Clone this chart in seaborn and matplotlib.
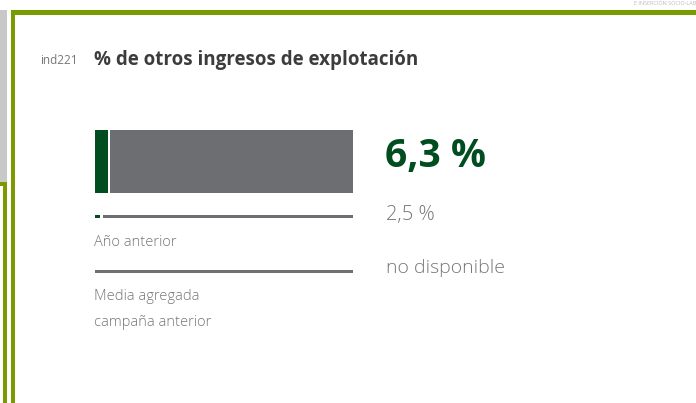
import seaborn as sns
import matplotlib.pyplot as plt
from matplotlib.patches import Rectangle

# datos del indicador
codigo = "ind221"
titulo = "% de otros ingresos de explotación"
valor_actual = 6.3
valor_anterior = 2.5
valor_media = None  # no disponible
etiqueta_actual = "6,3 %"
etiqueta_anterior = "2,5 %"
etiqueta_media = "no disponible"
rotulo_anterior = "Año anterior"
rotulo_media = ["Media agregada", "campaña anterior"]
escala_max = 125

verde = "#004d1f"
gris_barra = "#6d6e71"
gris_texto = "#777777"
oliva = "#7a9a01"

sns.set_theme(style="white")
plt.rcParams["font.family"] = ["Open Sans", "DejaVu Sans"]

fig = plt.figure(figsize=(6.96, 4.03), dpi=100)
ax = fig.add_axes([0, 0, 1, 1])
ax.set_xlim(0, 696)
ax.set_ylim(403, 0)
ax.axis("off")

# marcos del informe
ax.add_patch(Rectangle((0, 10), 7, 173, color="#c8c8c8", lw=0))
ax.add_patch(Rectangle((0, 182), 7, 4, color=oliva, lw=0))
ax.add_patch(Rectangle((3, 182), 4, 221, color=oliva, lw=0))
ax.add_patch(Rectangle((11, 10), 685, 5, color=oliva, lw=0))
ax.add_patch(Rectangle((11, 10), 4, 393, color=oliva, lw=0))
ax.text(696, 3, "E INSERCIÓN SOCIO-LAB", fontsize=4, color="#bbbbbb",
        ha="right", va="center")

# cabecera
ax.text(40, 61, codigo, fontsize=8.5, color=gris_texto, va="center")
ax.text(94, 60, titulo, fontsize=13.5, fontweight="bold", color="#3c3c3c",
        va="center")

# barras
bx = fig.add_axes([95 / 696, 0, 258 / 696, 1])
bx.set_xlim(0, escala_max)
bx.set_ylim(403, 0)
bx.axis("off")
hueco = 1.2
filas = [(161, 63, valor_actual), (216.5, 3, valor_anterior), (271, 3, valor_media)]
for y, alto, v in filas:
    if v is None:
        bx.barh(y, escala_max, height=alto, left=0, color="#707070", lw=0)
        continue
    bx.barh(y, v, height=alto, left=0, color=verde, lw=0)
    bx.barh(y, escala_max - v - hueco, height=alto, left=v + hueco,
            color=gris_barra, lw=0)

# valores
ax.text(385, 156, etiqueta_actual, fontsize=28, fontweight="bold", color=verde,
        va="center")
ax.text(386, 215, etiqueta_anterior, fontsize=14.5, color=gris_texto,
        va="center", fontweight="light")
ax.text(386, 268, etiqueta_media, fontsize=14, color=gris_texto,
        va="center", fontweight="light")

ax.text(94, 243, rotulo_anterior, fontsize=10.5, color=gris_texto, va="center",
        fontweight="light")
ax.text(94, 297, rotulo_media[0], fontsize=10.5, color=gris_texto, va="center",
        fontweight="light")
ax.text(94, 322, rotulo_media[1], fontsize=10.5, color=gris_texto, va="center",
        fontweight="light")

fig.savefig("out.png", dpi=100)
